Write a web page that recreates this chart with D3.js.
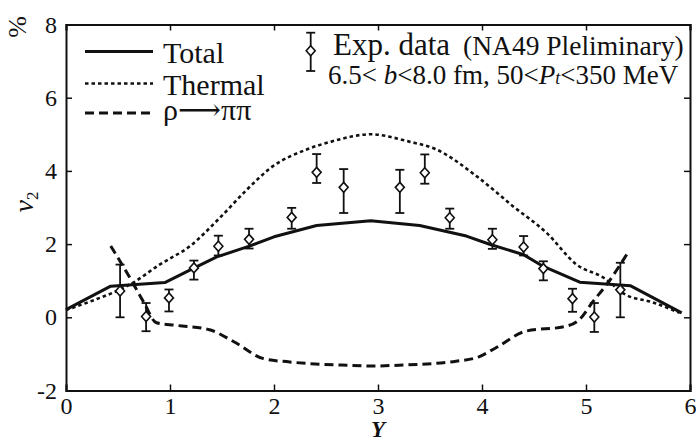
<!DOCTYPE html>
<html>
<head>
<meta charset="utf-8">
<script src="https://cdn.jsdelivr.net/npm/d3@7"></script>
<style>
body { margin: 0; background: #fff; }
svg text { font-family: "Liberation Serif", "Tinos", "Times New Roman", "Times", "DejaVu Serif", "Noto Serif", serif; fill: #111; }
</style>
</head>
<body>
<svg id="chart"></svg>
<script>
// NA49 v2 vs rapidity, model curves + data
var expY  = [0.52, 0.77, 0.99, 1.23, 1.465, 1.76, 2.17, 2.41, 2.67, 3.21, 3.45, 3.69, 4.10, 4.40, 4.59, 4.87, 5.08, 5.33];
var expV2 = [0.72, 0.02, 0.53, 1.35, 1.94, 2.13, 2.73, 3.96, 3.55, 3.55, 3.95, 2.72, 2.12, 1.92, 1.33, 0.51, 0.01, 0.75];
var expLo = [0.0, -0.38, 0.16, 1.03, 1.69, 1.88, 2.42, 3.67, 2.85, 2.85, 3.65, 2.42, 1.87, 1.69, 1.01, 0.15, -0.40, 0.0];
var expHi = [1.44, 0.39, 0.76, 1.55, 2.23, 2.42, 2.99, 4.46, 4.05, 4.03, 4.45, 2.97, 2.42, 2.22, 1.53, 0.78, 0.39, 1.49];

var totalY = [0, 0.43, 0.95, 1.2, 1.45, 1.77, 2.0, 2.41, 2.93, 3.4, 3.85, 4.08, 4.4, 4.59, 4.94, 5.43, 5.92];
var totalV = [0.21, 0.85, 0.95, 1.3, 1.65, 1.95, 2.2, 2.51, 2.64, 2.51, 2.22, 1.99, 1.71, 1.39, 0.96, 0.86, 0.12];

var thermY = [0, 0.26, 0.52, 0.63, 0.9, 1.19, 1.48, 1.74, 1.99, 2.31, 2.55, 2.93, 3.3, 3.55, 3.95, 4.3, 4.62, 4.91, 5.17, 5.38, 5.64, 5.9];
var thermV = [0.2, 0.46, 0.76, 0.92, 1.44, 1.94, 2.72, 3.49, 4.13, 4.58, 4.8, 5.0, 4.8, 4.6, 3.85, 3.03, 2.31, 1.44, 1.08, 0.62, 0.41, 0.12];

var rhoY = [0.43, 0.6, 0.75, 0.87, 1.06, 1.38, 1.61, 1.9, 2.15, 2.7, 2.95, 3.2, 3.75, 3.97, 4.13, 4.42, 4.8, 4.93, 5.07, 5.2, 5.41];
var rhoV = [1.95, 1.15, 0.4, -0.15, -0.22, -0.34, -0.66, -1.13, -1.22, -1.31, -1.33, -1.31, -1.2, -1.08, -0.84, -0.38, -0.25, -0.08, 0.44, 0.9, 1.8];

var xTicks = [0, 1, 2, 3, 4, 5, 6];
var yTicks = [-2, 0, 2, 4, 6, 8];

var serif = '"Liberation Serif", "Tinos", "Times New Roman", "Times", "DejaVu Serif", "Noto Serif", serif';

var width = 696, height = 441;
var svg = d3.select("#chart").attr("width", width).attr("height", height)
  .attr("font-family", serif);

var x = d3.scaleLinear().domain([0, 6]).range([66, 690]);
var y = d3.scaleLinear().domain([-2, 8]).range([390.5, 24.5]);

function pts(xs, ys) { return xs.map((v, i) => [v, ys[i]]); }

var line = d3.line().x(d => x(d[0])).y(d => y(d[1]));
var smooth = d3.line().x(d => x(d[0])).y(d => y(d[1])).curve(d3.curveMonotoneX);

// curves
svg.append("path").attr("d", smooth(pts(thermY, thermV)))
  .attr("fill", "none").attr("stroke", "#111").attr("stroke-width", 2.6)
  .attr("stroke-dasharray", "3.5,3");
svg.append("path").attr("d", smooth(pts(rhoY, rhoV)))
  .attr("fill", "none").attr("stroke", "#111").attr("stroke-width", 3)
  .attr("stroke-dasharray", "9,5");
svg.append("path").attr("d", line(pts(totalY, totalV)))
  .attr("fill", "none").attr("stroke", "#111").attr("stroke-width", 3)
  .attr("stroke-linejoin", "round");

// data points
var data = expY.map((v, i) => ({ y: v, v: expV2[i], lo: expLo[i], hi: expHi[i] }));
function errbar(g, cx, ylo, yhi, cy) {
  g.append("line").attr("x1", cx).attr("x2", cx).attr("y1", ylo).attr("y2", yhi)
    .attr("stroke", "#111").attr("stroke-width", 1.8);
  [ylo, yhi].forEach(yy => g.append("line").attr("x1", cx - 4.5).attr("x2", cx + 4.5)
    .attr("y1", yy).attr("y2", yy).attr("stroke", "#111").attr("stroke-width", 1.8));
  g.append("path").attr("d", "M" + cx + "," + (cy - 5) + "L" + (cx + 4.5) + "," + cy +
    "L" + cx + "," + (cy + 5) + "L" + (cx - 4.5) + "," + cy + "Z")
    .attr("fill", "#fff").attr("stroke", "#111").attr("stroke-width", 1.6);
}
var pg = svg.append("g");
data.forEach(d => errbar(pg, x(d.y), y(d.lo), y(d.hi), y(d.v)));

// axes / frame
var axB = svg.append("g").attr("transform", "translate(0," + y(-2) + ")")
  .call(d3.axisBottom(x).tickValues(xTicks).tickSize(-6).tickPadding(6).tickFormat(d => String(d)));
var axT = svg.append("g").attr("transform", "translate(0," + y(8) + ")")
  .call(d3.axisTop(x).tickValues(xTicks).tickSize(-6).tickFormat(""));
var axL = svg.append("g").attr("transform", "translate(" + x(0) + ",0)")
  .call(d3.axisLeft(y).tickValues(yTicks).tickSize(-6).tickPadding(9).tickFormat(d => String(d)));
var axR = svg.append("g").attr("transform", "translate(" + x(6) + ",0)")
  .call(d3.axisRight(y).tickValues(yTicks).tickSize(-6).tickFormat(""));
[axB, axT, axL, axR].forEach(a => {
  a.attr("font-family", serif).attr("font-size", 24);
  a.select(".domain").attr("stroke", "#111").attr("stroke-width", 2);
  a.selectAll(".tick line").attr("stroke", "#111").attr("stroke-width", 1.5);
  a.selectAll("text").attr("fill", "#111");
});

// axis titles
svg.append("text").attr("x", x(3)).attr("y", 437).attr("text-anchor", "middle")
  .attr("font-size", 23).attr("font-style", "italic").attr("font-weight", "bold").text("Y");
svg.append("text").attr("transform", "translate(33,202) rotate(-90)")
  .attr("text-anchor", "middle").attr("font-size", 28)
  .html('<tspan font-style="italic">ν</tspan><tspan font-size="17" dy="5">2</tspan>');
svg.append("text").attr("transform", "translate(26,27) rotate(-90)")
  .attr("text-anchor", "middle").attr("font-size", 26).text("%");

// legend
var leg = [
  { label: "Total", dash: null, sw: 3, y: 51.5, ty: 63 },
  { label: "Thermal", dash: "3.5,3", sw: 2.6, y: 83.5, ty: 95 },
  { label: "ρ⟶ππ", dash: "9,5", sw: 3, y: 113, ty: 120 }
];
leg.forEach(l => {
  svg.append("line").attr("x1", 85).attr("x2", 153).attr("y1", l.y).attr("y2", l.y)
    .attr("stroke", "#111").attr("stroke-width", l.sw).attr("stroke-dasharray", l.dash);
  svg.append("text").attr("x", 163).attr("y", l.ty).attr("font-size", 30).text(l.label);
});
errbar(svg.append("g"), 310.7, 71, 32.7, 50.7);
svg.append("text").attr("x", 333).attr("y", 55).attr("font-size", 31).text("Exp. data");
svg.append("text").attr("x", 463).attr("y", 55).attr("font-size", 27.5).text("(NA49 Pleliminary)");
svg.append("text").attr("x", 328).attr("y", 84).attr("font-size", 27)
  .html('6.5&lt; <tspan font-style="italic">b</tspan>&lt;8.0 fm, 50&lt;<tspan font-style="italic">P</tspan><tspan font-style="italic" font-size="18">t</tspan>&lt;350 MeV');
</script>
</body>
</html>
